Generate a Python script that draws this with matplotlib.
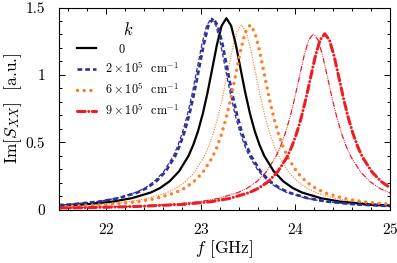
import matplotlib
matplotlib.use("Agg")
import matplotlib.pyplot as plt
from matplotlib.ticker import MultipleLocator

plt.rcParams['font.family'] = ['cmr10', 'DejaVu Serif']
plt.rcParams['mathtext.fontset'] = 'cm'
plt.rcParams['axes.formatter.use_mathtext'] = True
plt.rcParams['lines.scale_dashes'] = False

# ---- data ----
f_k0 = [21.5, 21.77, 22.07, 22.27, 22.47, 22.57, 22.67, 22.77, 22.87, 22.92, 22.97, 23.02, 23.07, 23.12,
        23.17, 23.22, 23.27, 23.32, 23.37, 23.42, 23.47, 23.52, 23.57, 23.62, 23.67, 23.77, 23.87, 23.97,
        24.07, 24.27, 24.47, 24.77, 25.0]
v_k0 = [0.028, 0.038, 0.059, 0.084, 0.126, 0.160, 0.210, 0.284, 0.399, 0.480, 0.582, 0.710, 0.866, 1.044,
        1.224, 1.365, 1.42, 1.365, 1.224, 1.044, 0.866, 0.710, 0.582, 0.480, 0.399, 0.284, 0.210, 0.160,
        0.126, 0.084, 0.059, 0.038, 0.029]

f_k2_thick = [21.5, 21.63, 21.93, 22.13, 22.33, 22.43, 22.53, 22.63, 22.73, 22.78, 22.83, 22.88, 22.93, 22.98,
              23.03, 23.08, 23.13, 23.18, 23.23, 23.28, 23.33, 23.38, 23.43, 23.48, 23.53, 23.63, 23.73, 23.83,
              23.93, 24.13, 24.33, 24.63, 25.0]
v_k2_thick = [0.033, 0.038, 0.059, 0.084, 0.126, 0.160, 0.210, 0.284, 0.399, 0.480, 0.582, 0.710, 0.866, 1.044,
              1.224, 1.365, 1.42, 1.365, 1.224, 1.044, 0.866, 0.710, 0.582, 0.480, 0.399, 0.284, 0.210, 0.160,
              0.126, 0.084, 0.059, 0.038, 0.025]
f_k2_thin = [21.5, 21.61, 21.91, 22.11, 22.31, 22.41, 22.51, 22.61, 22.71, 22.76, 22.81, 22.86, 22.91, 22.96,
             23.01, 23.06, 23.11, 23.16, 23.21, 23.26, 23.31, 23.36, 23.41, 23.46, 23.51, 23.61, 23.71, 23.81,
             23.91, 24.11, 24.31, 24.61, 25.0]
v_k2_thin = [0.034, 0.038, 0.059, 0.084, 0.126, 0.160, 0.210, 0.284, 0.399, 0.480, 0.582, 0.710, 0.866, 1.044,
             1.224, 1.365, 1.42, 1.365, 1.224, 1.044, 0.866, 0.710, 0.582, 0.480, 0.399, 0.284, 0.210, 0.160,
             0.126, 0.084, 0.059, 0.038, 0.024]

f_k6_thin = [21.5, 21.93, 22.23, 22.43, 22.63, 22.73, 22.83, 22.93, 23.03, 23.08, 23.13, 23.18, 23.23, 23.28,
             23.33, 23.38, 23.43, 23.48, 23.53, 23.58, 23.63, 23.68, 23.73, 23.78, 23.83, 23.93, 24.03, 24.13,
             24.23, 24.43, 24.63, 25.0]
v_k6_thin = [0.023, 0.037, 0.057, 0.081, 0.122, 0.155, 0.203, 0.274, 0.385, 0.463, 0.562, 0.685, 0.836, 1.007,
             1.181, 1.317, 1.37, 1.317, 1.181, 1.007, 0.836, 0.685, 0.562, 0.463, 0.385, 0.274, 0.203, 0.155,
             0.122, 0.081, 0.057, 0.034]
f_k6_thick = [21.5, 22.02, 22.32, 22.52, 22.72, 22.82, 22.92, 23.02, 23.12, 23.17, 23.22, 23.27, 23.32, 23.37,
              23.42, 23.47, 23.52, 23.57, 23.62, 23.67, 23.72, 23.77, 23.82, 23.87, 23.92, 24.02, 24.12, 24.22,
              24.32, 24.52, 24.72, 25.0]
v_k6_thick = [0.021, 0.037, 0.057, 0.081, 0.122, 0.155, 0.203, 0.274, 0.385, 0.463, 0.562, 0.685, 0.836, 1.007,
              1.181, 1.317, 1.37, 1.317, 1.181, 1.007, 0.836, 0.685, 0.562, 0.463, 0.385, 0.274, 0.203, 0.155,
              0.122, 0.081, 0.057, 0.038]

f_k9_thin = [21.5, 21.69, 22.19, 22.69, 22.99, 23.19, 23.39, 23.49, 23.59, 23.69, 23.79, 23.84, 23.89, 23.94,
             23.99, 24.04, 24.09, 24.14, 24.19, 24.24, 24.29, 24.34, 24.39, 24.44, 24.49, 24.54, 24.59, 24.69,
             24.79, 24.89, 25.0]
v_k9_thin = [0.012, 0.014, 0.022, 0.038, 0.058, 0.083, 0.125, 0.158, 0.206, 0.278, 0.388, 0.464, 0.560, 0.678,
             0.820, 0.979, 1.137, 1.258, 1.305, 1.258, 1.137, 0.979, 0.820, 0.678, 0.560, 0.464, 0.388, 0.278,
             0.206, 0.158, 0.122]
f_k9_thick = [21.5, 21.81, 22.31, 22.81, 23.11, 23.31, 23.51, 23.61, 23.71, 23.81, 23.91, 23.96, 24.01, 24.06,
              24.11, 24.16, 24.21, 24.26, 24.31, 24.36, 24.41, 24.46, 24.51, 24.56, 24.61, 24.66, 24.71, 24.81,
              24.91, 25.0]
v_k9_thick = [0.011, 0.014, 0.022, 0.038, 0.058, 0.083, 0.125, 0.158, 0.206, 0.278, 0.388, 0.464, 0.560, 0.678,
              0.820, 0.979, 1.137, 1.258, 1.305, 1.258, 1.137, 0.979, 0.820, 0.678, 0.560, 0.464, 0.388, 0.278,
              0.206, 0.162]

legend_labels = [r"$\quad\;0$", r"$2\times10^5$  cm$^{-1}$", r"$6\times10^5$  cm$^{-1}$", r"$9\times10^5$  cm$^{-1}$"]
x_ticks = [22, 23, 24, 25]
y_ticks = [0, 0.5, 1, 1.5]
y_ticklabels = ["0", "0.5", "1", "1.5"]

BLUE = '#2e2e9a'
ORANGE = '#ff7f2a'
RED = '#ee1c25'

fig = plt.figure(figsize=(3.97, 2.63), dpi=100)
ax = fig.add_axes([59/397, 1 - 209.5/263, (390-59)/397, (209.5-7.5)/263])

# thin companions
ax.plot(f_k2_thin, v_k2_thin, color=BLUE, lw=0.9, dashes=(3, 1.5))
ax.plot(f_k6_thin, v_k6_thin, color=ORANGE, lw=1.0, dashes=(0.01, 1.8), dash_capstyle='round')
ax.plot(f_k9_thin, v_k9_thin, color=RED, lw=0.9, dashes=(3.5, 1.5, 0.01, 1.5, 0.01, 1.5),
        dash_capstyle='round')

# thick main lines
l0, = ax.plot(f_k0, v_k0, color='black', lw=1.6, label=legend_labels[0])
l2, = ax.plot(f_k2_thick, v_k2_thick, color=BLUE, lw=1.9, dashes=(3.4, 2.2), label=legend_labels[1])
l6, = ax.plot(f_k6_thick, v_k6_thick, color=ORANGE, lw=2.5, dashes=(0.01, 4.8),
              dash_capstyle='round', label=legend_labels[2])
l9, = ax.plot(f_k9_thick, v_k9_thick, color=RED, lw=2.2, dashes=(5.5, 2.6, 0.01, 2.6),
              dash_capstyle='round', label=legend_labels[3])

ax.set_xlim(21.5, 25)
ax.set_ylim(0, 1.5)
ax.set_xticks(x_ticks)
ax.set_yticks(y_ticks)
ax.set_yticklabels(y_ticklabels)
ax.xaxis.set_minor_locator(MultipleLocator(0.2))
ax.yaxis.set_minor_locator(MultipleLocator(0.1))
ax.tick_params(which='both', direction='in', top=True, right=True, labelsize=11, width=0.7)
ax.tick_params(which='major', length=4)
ax.tick_params(axis='x', which='major', pad=9)
ax.tick_params(axis='y', which='major', pad=10)
ax.tick_params(which='minor', length=2)
for s in ax.spines.values():
    s.set_linewidth(0.8)

ax.set_xlabel(r"$f$ [GHz]", fontsize=12.5, labelpad=1)
ax.set_ylabel(r"$\mathrm{Im}[S_{XX}]$  [a.u.]", fontsize=12.5, labelpad=1)

leg = ax.legend(handles=[l0, l2, l6, l9], loc='upper left', frameon=False, fontsize=8.8,
                title=r"$k$", title_fontsize=12, handlelength=1.6, handletextpad=0.7,
                labelspacing=0.42, bbox_to_anchor=(0.02, 0.99), alignment='center')

fig.savefig("out.png", dpi=100)
